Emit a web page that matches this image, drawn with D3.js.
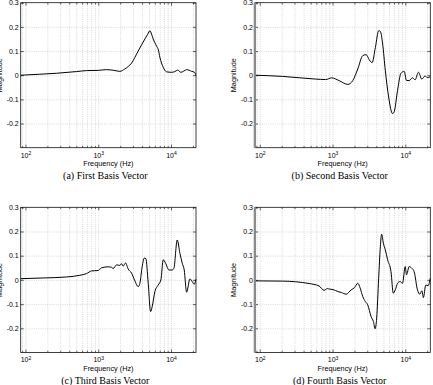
<!DOCTYPE html>
<html>
<head>
<meta charset="utf-8">
<script src="https://cdn.jsdelivr.net/npm/d3@7"></script>
<style>
  body { margin: 0; background: #fff; }
  svg { display: block; }
  .tick text { font-family: "Liberation Sans", Arial, sans-serif; font-size: 7px; fill: #000; }
  .grid line { stroke: #c0c0c0; stroke-width: 0.6; stroke-dasharray: 1 1.2; }
  .grid path { display: none; }
</style>
</head>
<body>
<div id="chart"></div>
<script>
// [frequency in Hz, magnitude]
var basis1 = [[86,0.0],[100,0.001],[157,0.004],[267,0.008],[503,0.015],[690,0.019],[1000,0.020],
  [1300,0.023],[1640,0.020],[1980,0.016],[2320,0.026],[2870,0.05],[3540,0.10],[4380,0.15],
  [4800,0.17],[5130,0.184],[5400,0.17],[5690,0.15],[6340,0.12],[6700,0.105],[7030,0.074],
  [7810,0.033],[8690,0.014],[10190,0.012],[11300,0.015],[12330,0.021],[13680,0.012],[15000,0.017],
  [16400,0.023],[19200,0.016],[21000,0.012],[22050,-0.002]];

var basis2 = [[86,0],[206,-0.005],[587,-0.016],[805,-0.018],[973,-0.011],[1222,-0.022],[1623,-0.038],
  [1900,-0.022],[2223,0.026],[2603,0.081],[2895,0.085],[3212,0.063],[3498,0.052],[3880,0.115],
  [4304,0.184],[4542,0.181],[4882,0.129],[5315,0.019],[5896,-0.09],[6687,-0.159],[7053,-0.15],
  [7824,-0.063],[8707,0.008],[9661,0.016],[10380,-0.022],[11300,-0.022],[12540,-0.011],
  [13650,-0.019],[15150,0.012],[16860,-0.016],[18700,-0.003],[20100,-0.01],[22050,-0.006]];

var basis3 = [[86,0.005],[175,0.008],[366,0.012],[558,0.019],[690,0.026],[809,0.037],[898,0.038],
  [1000,0.039],[1110,0.05],[1368,0.054],[1524,0.052],[1603,0.047],[1786,0.062],[1982,0.06],
  [2092,0.067],[2200,0.057],[2374,0.07],[2578,0.045],[2871,0.028],[3187,-0.004],[3538,-0.028],
  [3735,-0.014],[4016,0.055],[4280,0.09],[4514,0.088],[4860,-0.014],[5243,-0.131],[5514,-0.11],
  [6006,-0.048],[6668,-0.021],[7262,0.0],[7811,0.083],[8427,0.069],[9357,0.041],[10388,0.041],
  [10960,0.048],[12170,0.165],[13260,0.11],[14260,0.069],[15190,0.041],[16390,-0.051],
  [18200,0.004],[19570,-0.007],[20850,-0.018],[22050,0.003]];

var basis4 = [[86,-0.004],[206,-0.005],[476,-0.015],[652,-0.025],[763,-0.043],[849,-0.036],
  [913,-0.038],[1013,-0.04],[1185,-0.048],[1319,-0.052],[1543,-0.059],[1806,-0.041],[2004,-0.032],
  [2223,-0.014],[2398,-0.034],[2603,-0.069],[2834,-0.09],[3045,-0.103],[3389,-0.152],[3644,-0.172],
  [3843,-0.202],[4042,-0.158],[4304,0.007],[4542,0.138],[4729,0.189],[4991,0.152],[5315,0.124],
  [5713,0.083],[6358,0.034],[6834,-0.055],[7278,-0.041],[7824,-0.014],[8437,-0.007],[9156,-0.014],
  [9968,0.055],[10380,0.021],[11300,0.055],[12310,0.048],[13230,0.034],[14680,-0.041],
  [15830,-0.059],[16860,-0.045],[17730,-0.073],[19120,-0.021],[20550,-0.024],[22050,0.007]];

var captions = ["(a) First Basis Vector", "(b) Second Basis Vector",
                "(c) Third Basis Vector", "(d) Fourth Basis Vector"];
var freqDomain = [86, 22050];
var magDomain = [-0.3, 0.3];
var xMajor = [100, 1000, 10000];
var yTicks = [0.3, 0.2, 0.1, 0, -0.1, -0.2];

var width = 433, height = 385;

var svg = d3.select("#chart").append("svg")
  .attr("width", width)
  .attr("height", height);

// panel boxes (left, right, top, bottom)
var boxes = [
  {x0: 20.7, x1: 196,   y0: 2.7,   y1: 147.7},
  {x0: 255,  x1: 430.3, y0: 2.7,   y1: 147.7},
  {x0: 20.7, x1: 196,   y0: 207.3, y1: 352.5},
  {x0: 255,  x1: 430.3, y0: 207.3, y1: 352.5}
];
var series = [basis1, basis2, basis3, basis4];

// all 1..9 multiples inside the domain, for the grid and minor ticks
var xAll = [];
[10, 100, 1000, 10000].forEach(function(dec) {
  for (var k = 1; k <= 9; k++) {
    var v = dec * k;
    if (v > freqDomain[0] && v < freqDomain[1]) xAll.push(v);
  }
});
var xMinor = xAll.filter(function(v) { return xMajor.indexOf(v) < 0; });

boxes.forEach(function(b, i) {
  var w = b.x1 - b.x0, h = b.y1 - b.y0;

  var xScale = d3.scaleLog().domain(freqDomain).range([b.x0, b.x1]);
  var yScale = d3.scaleLinear().domain(magDomain).range([b.y1, b.y0]);

  var g = svg.append("g");

  // dotted grid
  g.append("g")
   .attr("class", "grid")
   .attr("transform", "translate(0," + b.y1 + ")")
   .call(d3.axisBottom(xScale).tickValues(xAll).tickSize(-h).tickFormat(""));
  g.append("g")
   .attr("class", "grid")
   .attr("transform", "translate(" + b.x0 + ",0)")
   .call(d3.axisLeft(yScale).tickValues([0.2, 0.1, 0, -0.1, -0.2]).tickSize(-w).tickFormat(""));

  // the curve
  var line = d3.line()
    .curve(d3.curveMonotoneX)
    .x(function(d) { return xScale(d[0]); })
    .y(function(d) { return yScale(d[1]); });

  g.append("path")
   .datum(series[i])
   .attr("fill", "none")
   .attr("stroke", "#000")
   .attr("stroke-width", 1)
   .attr("stroke-linejoin", "round")
   .attr("d", line);

  // inward ticks on all four sides
  var xb = g.append("g")
   .attr("transform", "translate(0," + b.y1 + ")")
   .call(d3.axisBottom(xScale).tickValues(xMajor).tickSizeInner(-3).tickSizeOuter(0).tickPadding(5)
     .tickFormat(function() { return ""; }));
  xb.selectAll(".tick text").each(function(d) {
    var t = d3.select(this);
    t.append("tspan").text("10");
    t.append("tspan").attr("dy", "-0.45em").attr("font-size", "5px")
     .text(Math.round(Math.log10(d)));
  });
  g.append("g")
   .attr("transform", "translate(0," + b.y1 + ")")
   .call(d3.axisBottom(xScale).tickValues(xMinor).tickSizeInner(-1.8).tickSizeOuter(0).tickFormat(""));
  g.append("g")
   .attr("transform", "translate(0," + b.y0 + ")")
   .call(d3.axisTop(xScale).tickValues(xMajor).tickSizeInner(-3).tickSizeOuter(0).tickFormat(""));
  g.append("g")
   .attr("transform", "translate(0," + b.y0 + ")")
   .call(d3.axisTop(xScale).tickValues(xMinor).tickSizeInner(-1.8).tickSizeOuter(0).tickFormat(""));

  g.append("g")
   .attr("transform", "translate(" + b.x0 + ",0)")
   .call(d3.axisLeft(yScale).tickValues(yTicks).tickSizeInner(-3).tickSizeOuter(0).tickPadding(2)
     .tickFormat(function(d) { return d === 0 ? "0" : d.toFixed(1); }));
  g.append("g")
   .attr("transform", "translate(" + b.x1 + ",0)")
   .call(d3.axisRight(yScale).tickValues(yTicks).tickSizeInner(-3).tickSizeOuter(0).tickFormat(""));

  g.selectAll(".domain").attr("stroke", "none");
  g.selectAll(".tick line").filter(function() {
      return !this.parentNode.parentNode.classList.contains("grid");
    })
   .attr("stroke", "#000").attr("stroke-width", 0.6);

  // box
  g.append("rect")
   .attr("x", b.x0).attr("y", b.y0)
   .attr("width", w).attr("height", h)
   .attr("fill", "none")
   .attr("stroke", "#111")
   .attr("stroke-width", 0.8);

  // right-hand panels have a grey bar along the left edge
  if (i % 2 === 1) {
    g.append("rect")
     .attr("x", b.x0 - 1.3).attr("y", b.y0)
     .attr("width", 2.2).attr("height", h)
     .attr("fill", "#8a8a8a");
  }

  // labels
  g.append("text")
   .attr("x", (b.x0 + b.x1) / 2)
   .attr("y", b.y1 + 18)
   .attr("text-anchor", "middle")
   .style("font-family", "'Liberation Sans', Arial, sans-serif")
   .style("font-size", "7.3px")
   .text("Frequency (Hz)");

  // on the left-hand panels this label runs off the page edge, as in the original
  g.append("text")
   .attr("transform", "translate(" + (b.x0 - 19) + "," + ((b.y0 + b.y1) / 2) + ") rotate(-90)")
   .attr("text-anchor", "middle")
   .style("font-family", "'Liberation Sans', Arial, sans-serif")
   .style("font-size", "7.3px")
   .text("Magnitude");

  g.append("text")
   .attr("x", (b.x0 + b.x1) / 2 - 3)
   .attr("y", b.y1 + 31)
   .attr("text-anchor", "middle")
   .style("font-family", "'Liberation Serif', 'Times New Roman', serif")
   .style("font-size", "10px")
   .text(captions[i]);
});
</script>
</body>
</html>
